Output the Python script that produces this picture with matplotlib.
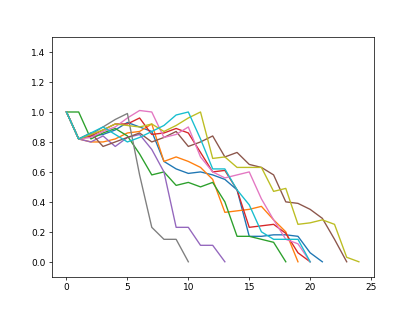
import matplotlib
matplotlib.use("Agg")
import matplotlib.pyplot as plt

blue   = [1.0, 0.82, 0.84, 0.85, 0.88, 0.93, 0.90, 0.87, 0.67, 0.62, 0.59, 0.60, 0.58, 0.55, 0.48, 0.17, 0.17, 0.18, 0.18, 0.17, 0.06, 0.0]
orange = [1.0, 0.82, 0.80, 0.80, 0.82, 0.86, 0.87, 0.92, 0.67, 0.70, 0.67, 0.63, 0.55, 0.33, 0.34, 0.35, 0.37, 0.28, 0.20, 0.0]
green  = [1.0, 1.0, 0.82, 0.86, 0.89, 0.84, 0.72, 0.58, 0.60, 0.51, 0.53, 0.50, 0.53, 0.40, 0.17, 0.17, 0.15, 0.13, 0.0]
red    = [1.0, 0.82, 0.84, 0.88, 0.92, 0.92, 0.96, 0.85, 0.86, 0.89, 0.86, 0.73, 0.60, 0.61, 0.48, 0.23, 0.24, 0.25, 0.19, 0.06, 0.0]
purple = [1.0, 0.82, 0.80, 0.84, 0.77, 0.83, 0.85, 0.75, 0.60, 0.23, 0.23, 0.11, 0.11, 0.0]
brown  = [1.0, 0.82, 0.86, 0.77, 0.80, 0.83, 0.86, 0.80, 0.83, 0.87, 0.77, 0.80, 0.84, 0.70, 0.73, 0.65, 0.63, 0.58, 0.40, 0.39, 0.35, 0.29, 0.15, 0.0]
pink   = [1.0, 0.82, 0.83, 0.87, 0.90, 0.96, 1.01, 1.00, 0.83, 0.85, 0.90, 0.70, 0.60, 0.56, 0.58, 0.60, 0.42, 0.28, 0.15, 0.12, 0.0]
gray   = [1.0, 0.82, 0.85, 0.90, 0.95, 0.99, 0.58, 0.23, 0.15, 0.15, 0.0]
olive  = [1.0, 0.82, 0.85, 0.88, 0.92, 0.91, 0.90, 0.92, 0.87, 0.91, 0.96, 1.00, 0.69, 0.70, 0.63, 0.63, 0.63, 0.47, 0.49, 0.25, 0.26, 0.28, 0.25, 0.03, 0.0]
cyan   = [1.0, 0.82, 0.86, 0.90, 0.85, 0.80, 0.83, 0.87, 0.91, 0.98, 1.00, 0.82, 0.62, 0.62, 0.48, 0.38, 0.20, 0.15, 0.15, 0.15, 0.0]

series = [blue, orange, green, red, purple, brown, pink, gray, olive, cyan]
yticks = [0.0, 0.2, 0.4, 0.6, 0.8, 1.0, 1.2, 1.4]
xticks = [0, 5, 10, 15, 20, 25]

fig, ax = plt.subplots(figsize=(6.4, 4.8), dpi=415 / 6.4)
for s in series:
    ax.plot(range(len(s)), s)
ax.set_ylim(-0.1, 1.5)
ax.set_yticks(yticks)
ax.set_xticks(xticks)
fig.savefig("out.png")
